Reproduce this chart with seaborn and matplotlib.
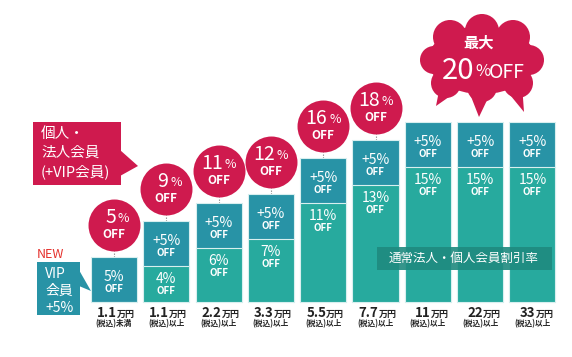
import numpy as np
import pandas as pd
import matplotlib
matplotlib.use("Agg")
import matplotlib.pyplot as plt
import matplotlib.patches as mpatches
import seaborn as sns

# data
amounts = ["1.1", "1.1", "2.2", "3.3", "5.5", "7.7", "11", "22", "33"]
suffixes = ["(税込)未満"] + ["(税込)以上"] * 8
base_rate = [0, 4, 6, 7, 11, 13, 15, 15, 15]
vip_rate = [5, 5, 5, 5, 5, 5, 5, 5, 5]

df = pd.DataFrame({"amount": amounts, "suffix": suffixes,
                   "base": base_rate, "vip": vip_rate})
df["label"] = [f"{a}万円{s}#{i}" for i, (a, s) in enumerate(zip(amounts, suffixes))]
df["total"] = df["base"] + df["vip"]

sns.set_style("white")
plt.rcParams["font.family"] = ["Noto Sans CJK JP", "DejaVu Sans"]

PINK = "#cf1a4e"
DARK = "#2893a6"
LIGHT = "#27aa9e"
RED = "#e5312d"

fig = plt.figure(figsize=(5.72, 3.57), dpi=100)
ax = fig.add_axes([0, 0, 1, 1])

# stacked bars: total in dark, base overlaid in light
sns.barplot(data=df, x="label", y="total", color=DARK, saturation=1,
            width=0.88, edgecolor="#d8efef", linewidth=0.8, ax=ax, zorder=2)
sns.barplot(data=df, x="label", y="base", color=LIGHT, saturation=1,
            width=0.88, edgecolor="#d8efef", linewidth=0.8, ax=ax, zorder=2)

PX = 9.0  # pixels per percent
ax.set_xlim(-114 / 52.3, (572 - 114) / 52.3)
ax.set_ylim(-55 / PX, 302 / PX)
ax.axis("off")

n = len(df)
xs = np.arange(n)

# circles with total discount (not for top tiers)
circ = df[df["total"] < 20]
cx = xs[: len(circ)]
cy = circ["total"].values + 32 / PX
ax.vlines(cx, circ["total"].values, cy - 26 / PX, colors="#777777",
          linestyles=(0, (1, 1.5)), linewidth=0.8, zorder=1)
sns.scatterplot(x=cx, y=cy, s=1400, color=PINK, linewidth=0, ax=ax,
                zorder=3, legend=False)

k = 0.72  # px -> pt
for i, (xv, yv, t) in enumerate(zip(cx, cy, circ["total"].values)):
    num = str(t)
    dx = 2 if len(num) == 1 else 4
    ax.annotate(num, (xv, yv), xytext=(dx * k, 8 * k), textcoords="offset points",
                ha="right", va="center", color="white", fontsize=14, zorder=4)
    ax.annotate("%", (xv, yv), xytext=((dx + 2) * k, 7 * k), textcoords="offset points",
                ha="left", va="center", color="white", fontsize=9, zorder=4)
    ax.annotate("OFF", (xv, yv), xytext=(0, -9 * k), textcoords="offset points",
                ha="center", va="center", color="white", fontsize=8.5,
                fontweight="bold", zorder=4)

# texts inside bars
for i, row in df.iterrows():
    top = row["total"]
    vtxt = "+5%" if row["base"] > 0 else "5%"
    ax.annotate(vtxt, (i, top), xytext=(0, -20 * k), textcoords="offset points",
                ha="center", va="center", color="white", fontsize=10, zorder=4)
    ax.annotate("OFF", (i, top), xytext=(0, -32 * k), textcoords="offset points",
                ha="center", va="center", color="white", fontsize=7,
                fontweight="bold", zorder=4)
    if row["base"] > 0:
        b = row["base"]
        ax.annotate(f"{b}%", (i, b), xytext=(0, -13 * k), textcoords="offset points",
                    ha="center", va="center", color="white", fontsize=10, zorder=4)
        ax.annotate("OFF", (i, b), xytext=(0, -25 * k), textcoords="offset points",
                    ha="center", va="center", color="white", fontsize=7,
                    fontweight="bold", zorder=4)
    # x tick labels
    ax.annotate(row["amount"], (i, 0), xytext=(3 * k, -11 * k), textcoords="offset points",
                ha="right", va="center", color="#222222", fontsize=9.5,
                fontweight="bold")
    ax.annotate("万円", (i, 0), xytext=(3 * k, -12 * k), textcoords="offset points",
                ha="left", va="center", color="#222222", fontsize=6.5,
                fontweight="bold")
    ax.annotate(row["suffix"], (i, 0), xytext=(0, -22 * k), textcoords="offset points",
                ha="center", va="center", color="#222222", fontsize=5.5,
                fontweight="bold")

# overlay in pixel coordinates for callouts
ov = fig.add_axes([0, 0, 1, 1], zorder=5)
ov.set_xlim(0, 572)
ov.set_ylim(357, 0)
ov.axis("off")
ov.patch.set_alpha(0)

# pink member callout
ov.add_patch(mpatches.Rectangle((33, 122), 88, 63, color=PINK, lw=0))
ov.add_patch(mpatches.Polygon([(120, 150), (120, 176), (138, 166)], color=PINK, lw=0))
for j, line in enumerate(["個人・", "法人会員", "(+VIP会員)"]):
    ov.text(41, 134 + j * 19, line, color="white", fontsize=10.5,
            ha="left", va="center")

# VIP callout
ov.add_patch(mpatches.Rectangle((37, 262), 43, 53, color=DARK, lw=0))
ov.add_patch(mpatches.Polygon([(79, 270), (79, 286), (91, 291)], color=DARK, lw=0))
for j, line in enumerate(["VIP", "会員", "+5%"]):
    ov.text(45, 274 + j * 17, line, color="white", fontsize=10,
            ha="left", va="center")
ov.text(37, 254, "NEW", color=RED, fontsize=9, ha="left", va="center")

# cloud
ov.add_patch(mpatches.Ellipse((482, 60), 108, 68, color=PINK, lw=0))
for (bx, by, r) in [(450, 37, 17), (482, 31, 17), (513, 37, 17), (529, 60, 15),
                    (518, 83, 15), (482, 87, 15), (446, 83, 15), (434, 60, 14)]:
    ov.add_patch(mpatches.Circle((bx, by), r, color=PINK, lw=0))
for tri in [[(440, 86), (456, 92), (436, 106)],
            [(470, 94), (490, 94), (479, 117)],
            [(506, 90), (522, 84), (524, 112)]]:
    ov.add_patch(mpatches.Polygon(tri, color=PINK, lw=0))
ov.text(479, 43, "最大", color="white", fontsize=11, fontweight="bold",
        ha="center", va="center")
ov.text(474, 71, "20", color="white", fontsize=21, ha="right", va="center")
ov.text(475, 72, "%", color="white", fontsize=12, ha="left", va="center")
ov.text(489, 72, "OFF", color="white", fontsize=14, ha="left", va="center")

# normal rate label
ov.add_patch(mpatches.Rectangle((377, 247), 175, 23, color="#1f8a7f", alpha=0.9, lw=0))
ov.text(464, 258.5, "通常法人・個人会員割引率", color="white", fontsize=9,
        ha="center", va="center")

fig.savefig("out.png", dpi=100)
